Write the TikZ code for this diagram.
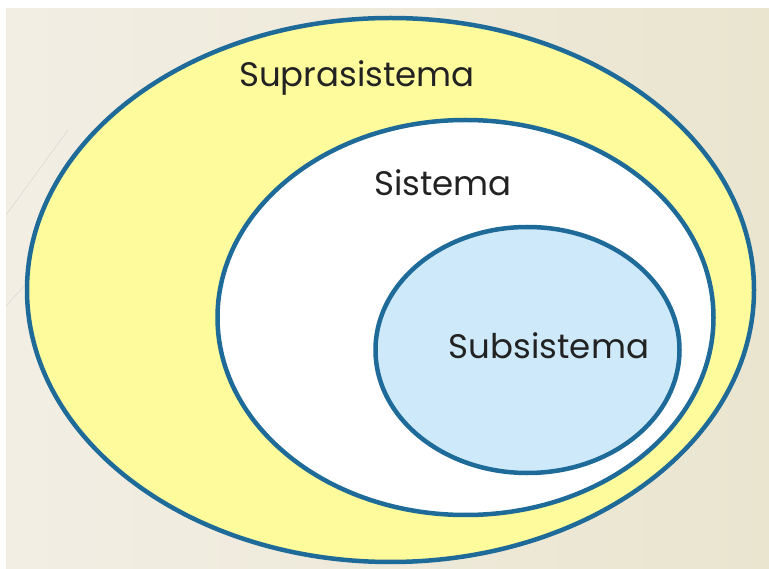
\documentclass[tikz,border=0pt]{standalone}
\usepackage{fontspec}
\setmainfont{Poppins}

\definecolor{rim}{HTML}{1E6A98}
\definecolor{supra}{HTML}{FDFB9C}
\definecolor{sub}{HTML}{CDE9FA}
\definecolor{slideL}{HTML}{F2EEE4}
\definecolor{slideR}{HTML}{EAE5CF}
\definecolor{ink}{HTML}{222222}

\tikzset{
  ring/.style={draw=rim, line width=4.5pt},
  label/.style={anchor=base, text=ink, font=\fontsize{34}{40}\selectfont, inner sep=0pt}
}

\begin{document}
\begin{tikzpicture}[x=1pt,y=-1pt]
    \fill[white] (0,0) rectangle (769,569);
    \shade[left color=slideL, right color=slideR] (6,9) rectangle (769,569);

    % faint strokes of the slide behind
    \draw[gray!45, very thin] (6,306) -- (25,285);
    \draw[gray!45, very thin] (6,215) -- (68,130);

    \draw[ring, fill=supra] (390.5,290) ellipse [x radius=363.5, y radius=272];
    \draw[ring, fill=white] (465.5,317.5) ellipse [x radius=248, y radius=197.5];
    \draw[ring, fill=sub] (527.5,350) ellipse [x radius=152, y radius=123];

    \node[label] (suprasis) at (357,87) {Suprasistema};
    \node[label] (sis) at (443,196) {Sistema};
    \node[label] (subsis) at (549,359) {Subsistema};
  \end{tikzpicture}
\end{document}
